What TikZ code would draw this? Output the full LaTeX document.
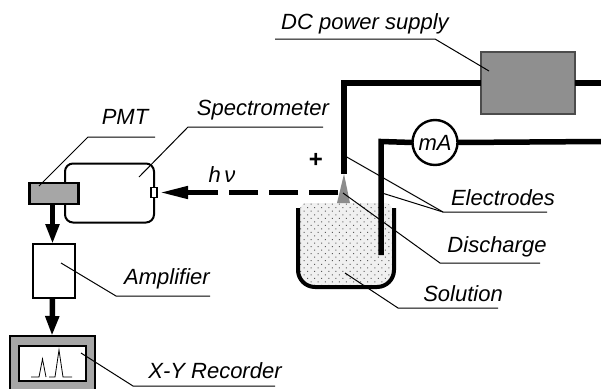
\documentclass[tikz,border=0pt]{standalone}
\usepackage{fontspec}
\setmainfont{Liberation Sans}
\usetikzlibrary{positioning, arrows.meta, patterns.meta}
\definecolor{blockgray}{HTML}{A6A6A6}
\definecolor{supplygray}{HTML}{8F8F8F}

\begin{document}
\begin{tikzpicture}[x=1pt, y=-1pt, every node/.style={font=\fontsize{22}{24}\selectfont\itshape, inner sep=0pt, outer sep=0pt}]
  \tikzstyle{block} = [rectangle, draw=black, line width=2.4pt, fill=white]
  \tikzstyle{graybox} = [block, fill=blockgray]
  \tikzstyle{wire} = [line width=5.5pt, draw=black, line cap=butt]
  \tikzstyle{arrow} = [line width=5.5pt, draw=black, -{Triangle[length=20pt, width=13pt]}]
  \tikzstyle{leader} = [line width=1pt, draw=black]

  \useasboundingbox (0,0) rectangle (601,388);

  % solution and beaker
  \fill[black!6, rounded corners=7pt] (300,203) rectangle (392,286);
  \fill[pattern={Dots[distance=5pt, radius=0.7pt, angle=45]}, pattern color=black!65, rounded corners=7pt] (300,203) rectangle (392,286);
  \draw[wire, line width=4pt, rounded corners=17pt] (298,208) -- (298,287) -- (394,287) -- (394,208);

  % instrument blocks
  \node (spec) [block, line width=2pt, rounded corners=8pt, minimum width=89pt, minimum height=59pt] at (109.5,193) {};
  \node (pmt) [graybox, minimum width=49pt, minimum height=21pt] at (54,193.5) {};
  \node (window) [block, line width=1.2pt, minimum width=6pt, minimum height=10pt] at (154,192.5) {};
  \node (amp) [block, minimum width=42pt, minimum height=54pt] at (54,271) {};
  \node (rec) [graybox, minimum width=85pt, minimum height=70pt] at (52.5,371) {};
  \node (screen) [block, line width=1.4pt, minimum width=67pt, minimum height=35pt] at (52.5,363.5) {};
  \node (dc) [rectangle, draw=black!70, line width=1.8pt, fill=supplygray, minimum width=94pt, minimum height=62pt] at (528,83) {};
  \node (meter) [circle, draw=black, line width=2.4pt, fill=white, minimum size=45pt] at (435,142.5) {mA};

  \draw[line width=0.8pt] (31,377) -- (39,377) -- (42.5,359) -- (46,377) (49,377) -- (55,377) -- (59,350) -- (63,377) -- (72,377);

  % electrodes and discharge
  \coordinate (tip) at (344,174);
  \coordinate (baseL) at (337,203);
  \coordinate (baseR) at (350,203);
  \coordinate (anode) at (344,83);
  \coordinate (cathode) at (381,255);
  \coordinate (cathodeTop) at (381,141.5);
  \coordinate (supplyEnd) at (601,83);
  \coordinate (meterEnd) at (601,141.5);
  \fill[black!45] (tip) -- (baseR) -- (baseL) -- cycle;
  \draw[wire] (tip) -- (anode) -- (dc.west);
  \draw[wire] (dc.east) -- (supplyEnd);
  \draw[wire] (cathode) -- (cathodeTop) -- (meter.west);
  \draw[wire] (meter.east) -- (meterEnd);

  % signal path
  \draw[arrow] ([xshift=-1.5pt]pmt.south) -- ([xshift=-1.5pt]amp.north);
  \draw[arrow] ([xshift=-1.5pt]amp.south) -- ([xshift=-0.5pt]rec.north);
  \coordinate (beam) at (338,192.5);
  \coordinate (beamShaft) at (218,192.5);
  \draw[line width=4.5pt, draw=black, dash pattern=on 29pt off 11pt] (beam) -- (beamShaft);
  \draw[line width=4.5pt, draw=black, -{Triangle[length=28pt, width=12pt]}] (beamShaft) -- ([xshift=3pt]window.east);

  % labels
  \node (pmtL) at (125,117) {PMT};
  \node (specL) at (263,110) {Spectrometer};
  \node (ampL) at (167,279) {Amplifier};
  \node (recL) at (215,371) {X-Y Recorder};
  \node (dcL) at (365,24) {DC power supply};
  \node (elecL) at (503,198) {Electrodes};
  \node (disL) at (497,247) {Discharge};
  \node (solL) at (463,294) {Solution};
  \node (hv) at (222,175) {h\,ν};
  \node (plus) [font=\fontsize{24}{26}\selectfont\bfseries] at (316,160) {+};

  % leader lines
  \coordinate (pmtIn) at (39,186);     \coordinate (pmtBend) at (88,137);   \coordinate (pmtEnd) at (155,137);
  \coordinate (specIn) at (139,177);   \coordinate (specBend) at (188,127); \coordinate (specEnd) at (323,127);
  \coordinate (ampIn) at (61,263);     \coordinate (ampBend) at (116,296);  \coordinate (ampEnd) at (210,296);
  \coordinate (recIn) at (81,353);     \coordinate (recBend) at (133,386);  \coordinate (recEnd) at (275,386);
  \coordinate (dcIn) at (489,71);      \coordinate (dcBend) at (435,39);    \coordinate (dcEnd) at (275,39);
  \coordinate (elecA) at (345,156);    \coordinate (elecB) at (382,193);
  \coordinate (elecBend) at (443,212); \coordinate (elecEnd) at (547,212);
  \coordinate (disIn) at (343,193);    \coordinate (disBend) at (440,263);  \coordinate (disEnd) at (540,263);
  \coordinate (solIn) at (345,273);    \coordinate (solBend) at (398,308);  \coordinate (solEnd) at (498,308);

  \draw[leader] (pmtIn) -- (pmtBend) -- (pmtEnd);
  \draw[leader] (specIn) -- (specBend) -- (specEnd);
  \draw[leader] (ampIn) -- (ampBend) -- (ampEnd);
  \draw[leader] (recIn) -- (recBend) -- (recEnd);
  \draw[leader] (dcIn) -- (dcBend) -- (dcEnd);
  \draw[leader] (elecA) -- (elecBend) -- (elecEnd);
  \draw[leader] (elecB) -- (elecBend);
  \draw[leader] (disIn) -- (disBend) -- (disEnd);
  \draw[leader] (solIn) -- (solBend) -- (solEnd);
\end{tikzpicture}
\end{document}
